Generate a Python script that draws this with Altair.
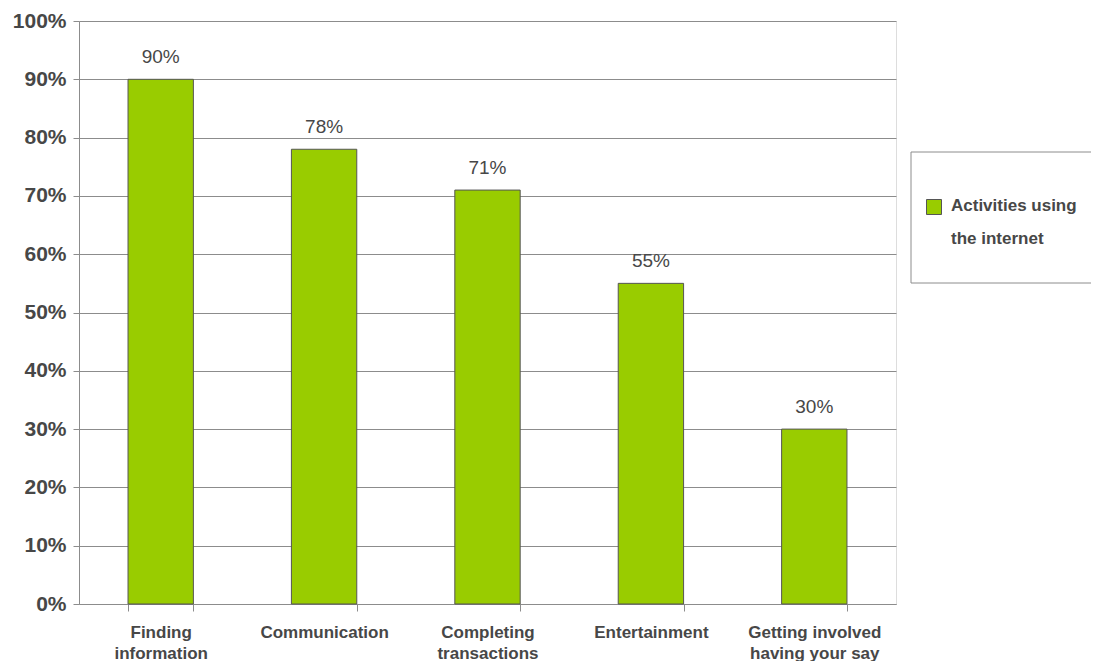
import altair as alt
import pandas as pd

# ---- data ----
CATEGORY_LINES = [
    ["Finding", "information"],
    ["Communication"],
    ["Completing", "transactions"],
    ["Entertainment"],
    ["Getting involved", "having your say"],
]
CATEGORIES = [" ".join(l) for l in CATEGORY_LINES]
VALUES = [0.90, 0.78, 0.71, 0.55, 0.30]
SERIES_LINES = ["Activities using", "the internet"]
SERIES = " ".join(SERIES_LINES)
Y_TICKS = [0.0, 0.1, 0.2, 0.3, 0.4, 0.5, 0.6, 0.7, 0.8, 0.9, 1.0]

df = pd.DataFrame({"category": CATEGORIES, "value": VALUES, "series": [SERIES] * len(VALUES)})

# multi-line x labels
def _arr(lines):
    return "[" + ", ".join("'" + s + "'" for s in lines) + "]"

label_expr = ""
for name, lines in zip(CATEGORIES, CATEGORY_LINES):
    label_expr += f"datum.label == '{name}' ? {_arr(lines)} : "
label_expr += "datum.label"

FONT = "Liberation Sans, Arial, Helvetica"
GREEN = "#99CC00"
GRAY = "#8c8c8c"
TEXT = "#474747"

x_enc = alt.X(
    "category:N",
    sort=CATEGORIES,
    title=None,
    scale=alt.Scale(paddingInner=0.6, paddingOuter=0.3),
    axis=alt.Axis(
        labelAngle=0,
        labelExpr=label_expr,
        labelFont=FONT,
        labelFontSize=17,
        labelFontWeight="bold",
        labelColor=TEXT,
        labelBaseline="top",
        labelLineHeight=21,
        labelPadding=13,
        tickBand="extent",
        tickSize=7,
        tickColor=GRAY,
        domainColor=GRAY,
        labelLimit=300,
    ),
)
y_enc = alt.Y(
    "value:Q",
    title=None,
    scale=alt.Scale(domain=[0, 1], nice=False),
    axis=alt.Axis(
        values=Y_TICKS,
        format=".0%",
        labelFont=FONT,
        labelFontSize=21,
        labelFontWeight="bold",
        labelColor=TEXT,
        labelPadding=7,
        tickSize=6,
        tickColor=GRAY,
        domainColor=GRAY,
        gridColor=GRAY,
        grid=True,
    ),
)
color_enc = alt.Color("series:N", scale=alt.Scale(range=[GREEN]), legend=None)

base = alt.Chart(df)

bars = base.mark_bar(stroke="#555555", strokeWidth=1).encode(x=x_enc, y=y_enc, color=color_enc)
labels = base.mark_text(
    dy=-16, baseline="alphabetic", font=FONT, fontSize=19, color=TEXT
).encode(x=x_enc, y=y_enc, text=alt.Text("value:Q", format=".0%"))

leg_df = pd.DataFrame({"series": [SERIES]})
leg_box = alt.Chart(leg_df).mark_rect(fill="white", stroke=GRAY, strokeWidth=1).encode(
    x=alt.value(832), x2=alt.value(1018), y=alt.value(131), y2=alt.value(262)
)
leg_sym = alt.Chart(leg_df).mark_square(size=225, stroke="#555555", strokeWidth=1, opacity=1).encode(
    x=alt.value(855), y=alt.value(186), color=color_enc
)
leg_txt = alt.Chart(leg_df).mark_text(
    align="left", baseline="alphabetic", lineHeight=33, font=FONT, fontSize=17,
    fontWeight="bold", color=TEXT, text=SERIES_LINES,
).encode(x=alt.value(872), y=alt.value(190))

chart = (
    alt.layer(bars, labels, leg_box, leg_sym, leg_txt)
    .properties(
        width=817,
        height=583,
        autosize=alt.AutoSizeParams(type="none"),
        padding={"left": 71, "top": 13, "right": 195, "bottom": 57},
    )
    .configure_view(stroke=GRAY, strokeWidth=1)
    .configure(background="white")
)

chart.save("out.html", embed_options={"renderer": "svg", "actions": False})
